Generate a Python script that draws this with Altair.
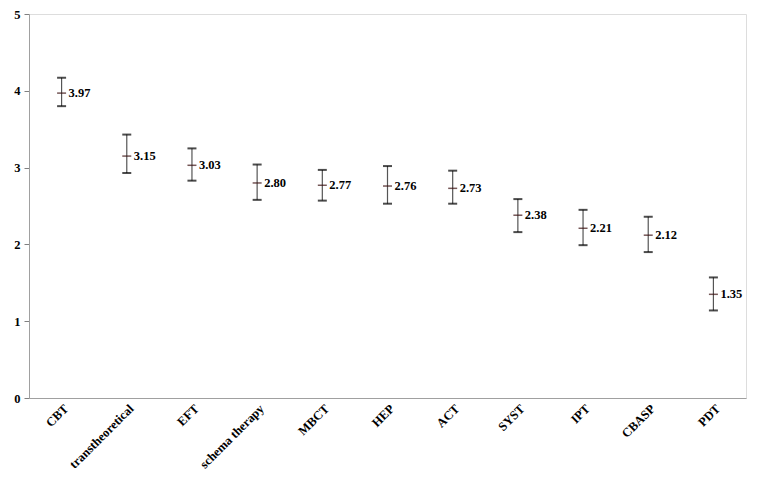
import altair as alt
import pandas as pd

therapies = ["CBT", "transtheoretical", "EFT", "schema therapy", "MBCT", "HEP",
             "ACT", "SYST", "IPT", "CBASP", "PDT"]
means = [3.97, 3.15, 3.03, 2.80, 2.77, 2.76, 2.73, 2.38, 2.21, 2.12, 1.35]
uppers = [4.17, 3.43, 3.25, 3.04, 2.97, 3.02, 2.96, 2.59, 2.45, 2.36, 1.57]
lowers = [3.80, 2.93, 2.83, 2.58, 2.57, 2.53, 2.53, 2.16, 1.99, 1.90, 1.14]

df = pd.DataFrame({"therapy": therapies, "mean": means, "upper": uppers, "lower": lowers})
df["label"] = [f"{m:.2f}" for m in means]

FONT = "Liberation Serif"

x = alt.X("therapy:N", sort=therapies, title=None,
          scale=alt.Scale(type="point", padding=0.5),
          axis=alt.Axis(labelAngle=-45, labelFont=FONT, labelFontWeight="bold",
                        labelFontSize=12.5, labelColor="black", ticks=False,
                        domainColor="#a0a0a0", labelPadding=4, grid=False))
yscale = alt.Scale(domain=[0, 5], nice=False)
yaxis = alt.Axis(values=[0, 0.5, 1, 1.5, 2, 2.5, 3, 3.5, 4, 4.5, 5],
                 labelExpr="datum.value % 1 == 0 ? format(datum.value, 'd') : ''",
                 labelFont=FONT, labelFontWeight="bold", labelFontSize=12.5,
                 labelColor="black", tickColor="#808080", tickSize=5,
                 domainColor="#a0a0a0", grid=False, labelPadding=4)

base = alt.Chart(df)

bars = base.mark_rule(color="#555555", strokeWidth=1.2).encode(
    x=x,
    y=alt.Y("lower:Q", scale=yscale, axis=yaxis, title=None),
    y2="upper:Q",
)
cap_top = base.mark_tick(color="black", thickness=2, size=9, orient="horizontal").encode(
    x=x, y=alt.Y("upper:Q", scale=yscale))
cap_bot = base.mark_tick(color="black", thickness=2, size=9, orient="horizontal").encode(
    x=x, y=alt.Y("lower:Q", scale=yscale))
mid = base.mark_tick(color="#3a1010", thickness=1.5, size=9, orient="horizontal").encode(
    x=x, y=alt.Y("mean:Q", scale=yscale))
labels = base.mark_text(align="left", baseline="middle", dx=7, font=FONT,
                        fontWeight="bold", fontSize=12.5, color="black").encode(
    x=x, y=alt.Y("mean:Q", scale=yscale), text="label:N")

chart = alt.layer(bars, cap_top, cap_bot, mid, labels).properties(
    width=717, height=384,
    autosize=alt.AutoSizeParams(type="none"),
    padding={"left": 21, "top": 6, "right": 8, "bottom": 78},
).configure_view(stroke=None).configure(background="white")

chart.save("out.html", embed_options={"renderer": "svg", "actions": False})
